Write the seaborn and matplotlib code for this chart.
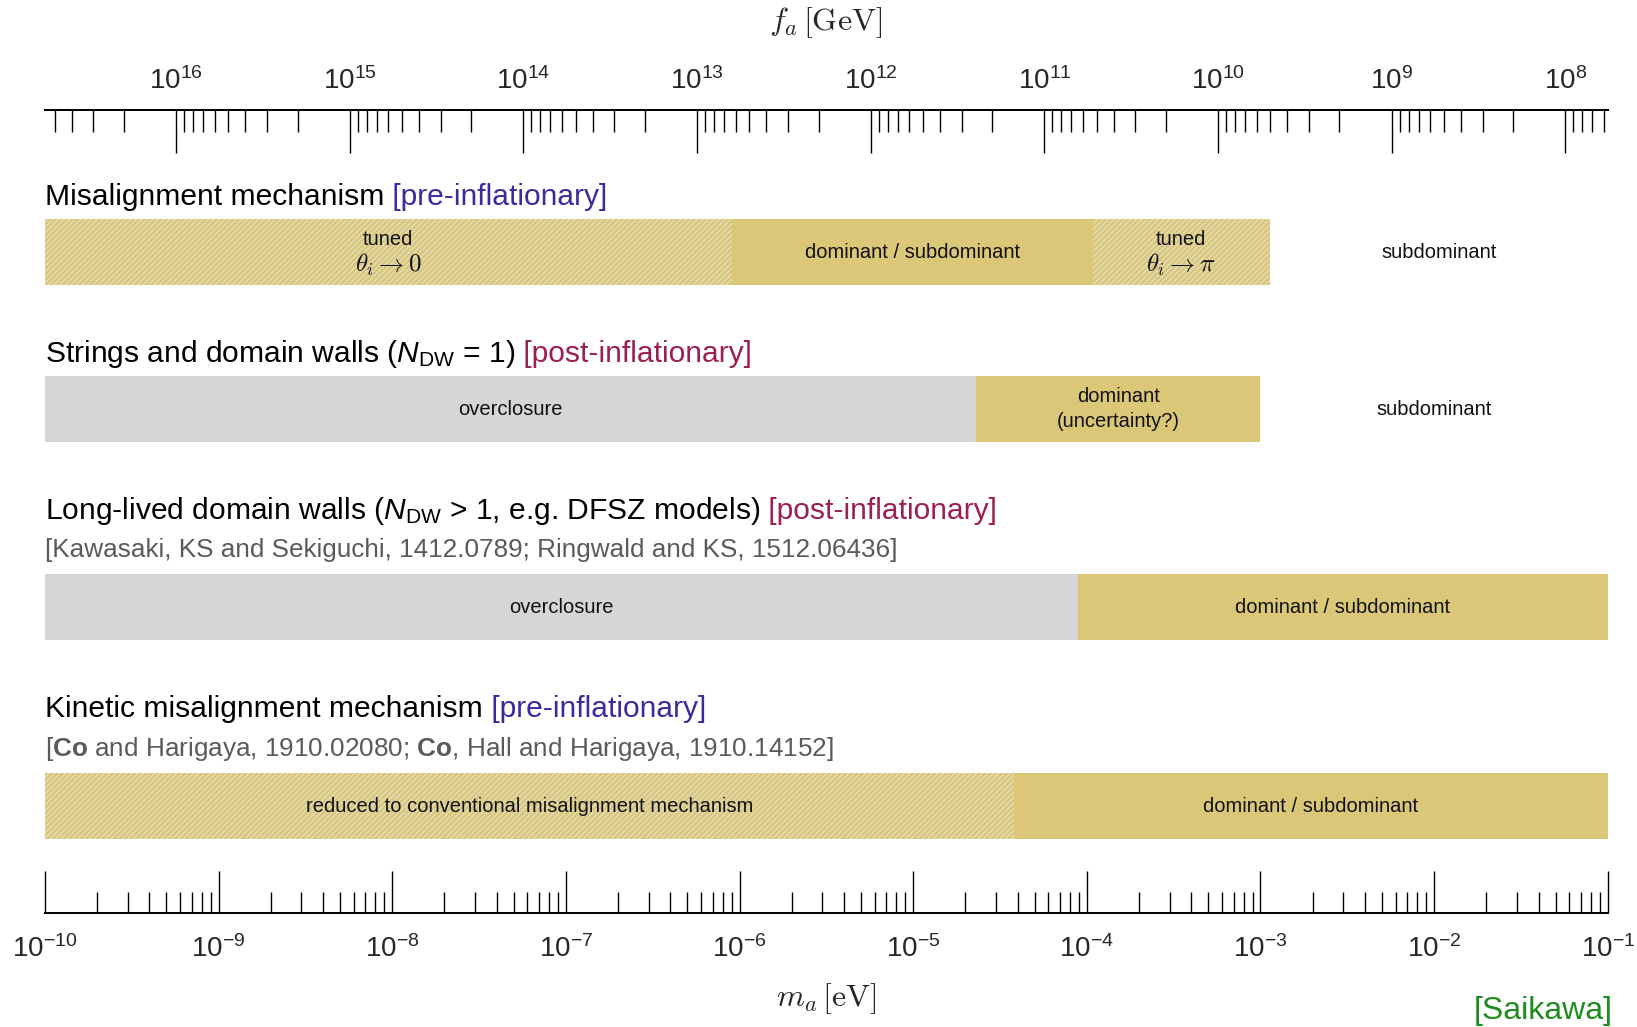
import numpy as np
import matplotlib
matplotlib.use("Agg")
import matplotlib.pyplot as plt
from matplotlib.ticker import FixedLocator, LogLocator, FuncFormatter, NullFormatter
from matplotlib.transforms import IdentityTransform
import seaborn as sns

# f_a [GeV] = FA_MA / m_a [eV]
FA_MA = 5.7e6

# ------------------------------------------------------------------
# data: segment edges in m_a [eV], label and fill kind of each segment
# ------------------------------------------------------------------
mis_edges = [1e-10, 9.0e-7, 1.08e-4, 1.13e-3, 1e-1]
mis_labels = ["tuned\n$\\theta_i \\rightarrow 0$", "dominant / subdominant",
              "tuned\n$\\theta_i \\rightarrow \\pi$", "subdominant"]
mis_kinds = ["tuned", "dominant", "tuned", "none"]

str_edges = [1e-10, 2.3e-5, 1.0e-3, 1e-1]
str_labels = ["overclosure", "dominant\n(uncertainty?)", "subdominant"]
str_kinds = ["over", "dominant", "none"]

ldw_edges = [1e-10, 8.9e-5, 1e-1]
ldw_labels = ["overclosure", "dominant / subdominant"]
ldw_kinds = ["over", "dominant"]

kin_edges = [1e-10, 3.8e-5, 1e-1]
kin_labels = ["reduced to conventional misalignment mechanism", "dominant / subdominant"]
kin_kinds = ["tuned", "dominant"]

# decades shown on the two axes
ma_decades = list(range(-10, 0))   # 1e-10 ... 1e-1 eV
fa_decades = list(range(8, 17))    # 1e8 ... 1e16 GeV

BLUE = "#3b2a9e"
RED = "#9b1f52"
row_titles = [
    [("Misalignment mechanism", "black"), (" [pre-inflationary]", BLUE)],
    [("Strings and domain walls ($N_{\\mathrm{DW}}$ = 1)", "black"), (" [post-inflationary]", RED)],
    [("Long-lived domain walls ($N_{\\mathrm{DW}}$ > 1, e.g. DFSZ models)", "black"),
     (" [post-inflationary]", RED)],
    [("Kinetic misalignment mechanism", "black"), (" [pre-inflationary]", BLUE)],
]
row_refs = [
    None,
    None,
    "[Kawasaki, KS and Sekiguchi, 1412.0789; Ringwald and KS, 1512.06436]",
    "[$\\mathbf{Co}$ and Harigaya, 1910.02080; $\\mathbf{Co}$, Hall and Harigaya, 1910.14152]",
]

rows = [(mis_edges, mis_labels, mis_kinds),
        (str_edges, str_labels, str_kinds),
        (ldw_edges, ldw_labels, ldw_kinds),
        (kin_edges, kin_labels, kin_kinds)]

# layout in output pixels (y measured from top)
W, H = 1637, 1027
AX_L, AX_R, AX_T, AX_B = 44.9, 1607.8, 110, 913
bar_tops = [219, 376, 574, 773]
BAR_H = 66
LINE_OFF = 12.8
title_base = [205, 362, 519, 717]
ref_base = [None, None, 557, 756]

GOLD = "#dac878"
GRAY = "#d6d6d6"
HATCH_COL = "#e4e1d6"

sns.set_theme(style="white")
plt.rcParams["font.family"] = ["Liberation Sans", "DejaVu Sans"]
plt.rcParams["mathtext.fontset"] = "custom"
plt.rcParams["mathtext.rm"] = "Liberation Sans"
plt.rcParams["mathtext.it"] = "Liberation Sans:italic"
plt.rcParams["mathtext.bf"] = "Liberation Sans:bold"
plt.rcParams["hatch.linewidth"] = 0.75

fig = plt.figure(figsize=(W / 100, H / 100), dpi=100)
ax = fig.add_axes([AX_L / W, 1 - AX_B / H, (AX_R - AX_L) / W, (AX_B - AX_T) / H])
ax.set_xscale("log")
ax.set_xlim(1e-10, 1e-1)
ax.set_ylim(AX_B, AX_T)
ax.set_yticks([])

# bars
for i, (edges, labels, kinds) in enumerate(rows):
    yc = bar_tops[i] + BAR_H / 2
    for lo, hi, lab, kind in zip(edges[:-1], edges[1:], labels, kinds):
        if kind == "tuned":
            ax.barh(yc, hi - lo, left=lo, height=BAR_H, color=GOLD,
                    edgecolor=HATCH_COL, hatch="//////", linewidth=0)
        elif kind == "dominant":
            ax.barh(yc, hi - lo, left=lo, height=BAR_H, color=GOLD, linewidth=0)
        elif kind == "over":
            ax.barh(yc, hi - lo, left=lo, height=BAR_H, color=GRAY, linewidth=0)
        lines = lab.split("\n")
        offs = [0] if len(lines) == 1 else [-LINE_OFF, LINE_OFF]
        for line, off in zip(lines, offs):
            size = 18 if "$" in line else 14.5
            ax.text(np.sqrt(lo * hi), yc + off, line, ha="center", va="center",
                    fontsize=size, color="#111111", math_fontfamily="cm")

# bottom axis: m_a
fmt = FuncFormatter(lambda v, p: r"$\mathregular{10^{%d}}$" % round(np.log10(v)))
ax.xaxis.set_major_locator(FixedLocator([10.0 ** d for d in ma_decades]))
ax.xaxis.set_minor_locator(LogLocator(base=10, subs=np.arange(2, 10), numticks=200))
ax.xaxis.set_major_formatter(fmt)
ax.xaxis.set_minor_formatter(NullFormatter())
ax.tick_params(axis="x", which="major", direction="in", length=30, width=1.0,
               labelsize=20, pad=16, color="black", bottom=True, top=False)
ax.tick_params(axis="x", which="minor", direction="in", length=15, width=1.0,
               color="black", bottom=True, top=False)

# top axis: f_a
with np.errstate(divide="ignore"):
    sec = ax.secondary_xaxis("top", functions=(lambda m: FA_MA / m, lambda f: FA_MA / f))
sec.xaxis.set_major_locator(FixedLocator([10.0 ** d for d in fa_decades]))
sec.xaxis.set_minor_locator(LogLocator(base=10, subs=np.arange(2, 10), numticks=200))
sec.xaxis.set_major_formatter(fmt)
sec.xaxis.set_minor_formatter(NullFormatter())
sec.tick_params(axis="x", which="major", direction="in", length=31, width=1.0,
                labelsize=20, pad=11, color="black")
sec.tick_params(axis="x", which="minor", direction="in", length=16, width=1.0, color="black")

sns.despine(ax=ax, top=False, bottom=False, left=True, right=True)
for sp in [ax.spines["bottom"], ax.spines["top"], sec.spines["top"]]:
    sp.set_linewidth(1.4)
    sp.set_color("black")

# row titles, coloured pieces placed one after another
renderer = fig.canvas.get_renderer()
for i, pieces in enumerate(row_titles):
    x = AX_L
    for txt, col in pieces:
        t = fig.text(x, H - title_base[i], txt, transform=IdentityTransform(),
                     color=col, fontsize=21.6, ha="left", va="baseline")
        x = t.get_window_extent(renderer).x1
    if row_refs[i]:
        fig.text(AX_L, H - ref_base[i], row_refs[i], transform=IdentityTransform(),
                 color="#5a5a5a", fontsize=18.8, ha="left", va="baseline")

fig.text(826 / W, 1 - 23 / H, r"$f_a\,[\mathrm{GeV}]$", math_fontfamily="cm",
         fontsize=23, ha="center", va="center")
fig.text(826 / W, 1 - 999 / H, r"$m_a\,[\mathrm{eV}]$", math_fontfamily="cm",
         fontsize=23, ha="center", va="center")
fig.text(1613 / W, 1 - 1011 / H, "[Saikawa]", color="#1e8c1e", fontsize=23,
         ha="right", va="center")

fig.savefig("out.png", dpi=100)
